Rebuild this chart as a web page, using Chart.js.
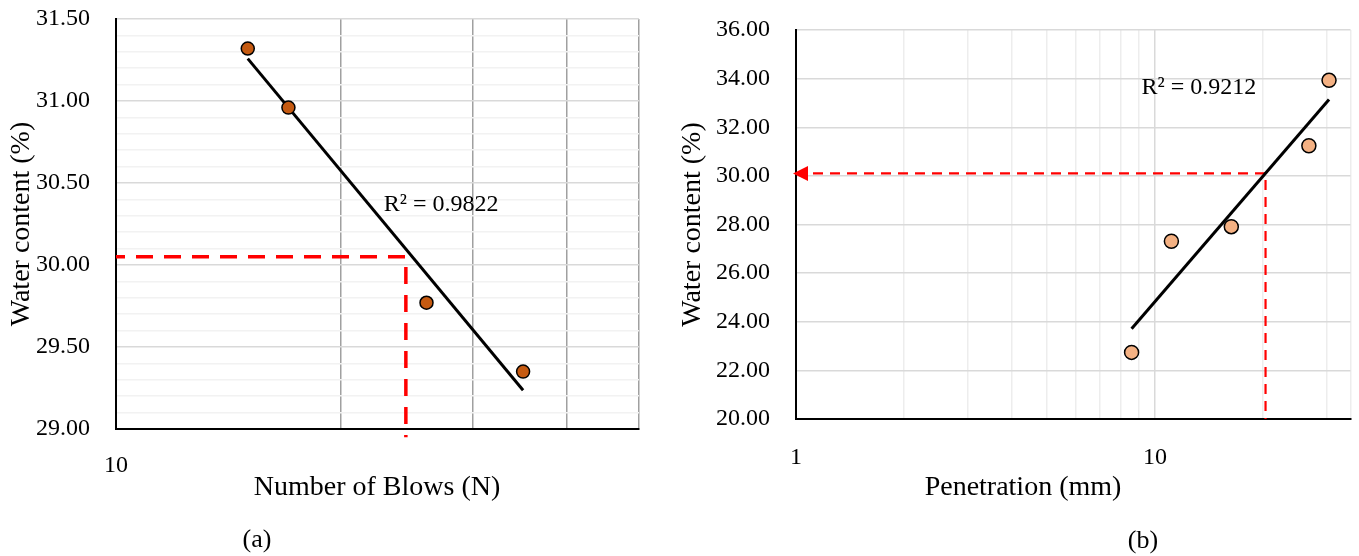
<!DOCTYPE html>
<html>
<head>
<meta charset="utf-8">
<script src="https://cdn.jsdelivr.net/npm/chart.js@4.4.1/dist/chart.umd.min.js"></script>
<style>
  body { margin: 0; background: #fff; width: 1359px; height: 556px; position: relative; overflow: hidden; }
  canvas { position: absolute; top: 0; }
  #chartA { left: 0; }
  #chartB { left: 670px; }
  .lbl { position: absolute; font-family: "Liberation Serif", serif; color: #000; white-space: nowrap; transform: translate(-50%, -50%); }
  .xt { font-size: 28px; }
  .cap { font-size: 26px; }
</style>
</head>
<body>
<canvas id="chartA" width="660" height="556"></canvas>
<canvas id="chartB" width="689" height="556"></canvas>
<div class="lbl xt" style="left:377px; top:486px;">Number of Blows (N)</div>
<div class="lbl xt" style="left:1023px; top:486px;">Penetration (mm)</div>
<div class="lbl cap" style="left:257px; top:539px;">(a)</div>
<div class="lbl cap" style="left:1143px; top:540px;">(b)</div>
<script>
// (a) liquid limit - number of blows
const blowsN = [15, 17, 26, 35];
const waterA = [31.32, 30.96, 29.77, 29.35];
const refA = [24.4, 30.05];        // N at 25 blows reading, water content
const r2A = 'R² = 0.9822';
const r2PosA = [22.8, 30.37];
const xLabelsA = [10];

// (b) cone penetration
const penetration = [8.6, 11.1, 16.3, 26.8, 30.5];
const waterB = [22.74, 27.31, 27.91, 31.24, 33.93];
const refB = [20.3, 30.1];         // 20 mm penetration, water content
const r2B = 'R² = 0.9212';
const r2PosB = [9.16, 33.61];
const xLabelsB = [1, 10];

Chart.defaults.color = '#000';
Chart.defaults.font.family = '"Liberation Serif", serif';

// logarithmic trendline y = a + b ln(x), like Excel
function logFit(xs, ys) {
  const lx = xs.map(Math.log);
  const n = xs.length;
  const mx = lx.reduce((s, v) => s + v, 0) / n;
  const my = ys.reduce((s, v) => s + v, 0) / n;
  let sxy = 0, sxx = 0;
  lx.forEach((v, i) => { sxy += (v - mx) * (ys[i] - my); sxx += (v - mx) ** 2; });
  const b = sxy / sxx;
  const a = my - b * mx;
  return x => a + b * Math.log(x);
}

function trendPoints(xs, ys) {
  const f = logFit(xs, ys);
  const lo = Math.min(...xs), hi = Math.max(...xs);
  return [{ x: lo, y: f(lo) }, { x: hi, y: f(hi) }];
}

const near = (v, step) => Math.abs(v / step - Math.round(v / step)) < 1e-6;

// 1,2,..9,10,20,30.. (Excel-style log grid)
function isLogStep(v) {
  const p = Math.pow(10, Math.floor(Math.log10(v) + 1e-9));
  return near(v / p, 1);
}

// keep the plot area where it is set, not pushed by tick label padding
function fixPad(size) {
  return s => {
    if (s.isHorizontal()) s.height = size; else s.width = size;
    s.paddingTop = 0; s.paddingBottom = 0; s.paddingLeft = 0; s.paddingRight = 0;
  };
}

const textPlugin = {
  id: 'r2text',
  afterDatasetsDraw(chart, args, opts) {
    const { ctx, scales: { x, y } } = chart;
    ctx.save();
    ctx.font = '24px "Liberation Serif", serif';
    ctx.fillStyle = '#000';
    ctx.textAlign = 'left';
    ctx.textBaseline = 'middle';
    ctx.fillText(opts.text, x.getPixelForValue(opts.pos[0]), y.getPixelForValue(opts.pos[1]));
    if (opts.arrowAt) {
      const px = x.getPixelForValue(opts.arrowAt[0]);
      const py = y.getPixelForValue(opts.arrowAt[1]);
      ctx.fillStyle = '#FF0000';
      ctx.beginPath();
      ctx.moveTo(px - 3, py);
      ctx.lineTo(px + 12, py - 7.5);
      ctx.lineTo(px + 12, py + 7.5);
      ctx.closePath();
      ctx.fill();
    }
    ctx.restore();
  }
};

new Chart(document.getElementById('chartA'), {
  type: 'scatter',
  data: {
    datasets: [
      {
        data: blowsN.map((v, i) => ({ x: v, y: waterA[i] })),
        backgroundColor: '#C55A11',
        borderColor: '#000',
        borderWidth: 1.5,
        pointRadius: 6.5,
        pointHoverRadius: 6.5
      },
      {
        type: 'line',
        data: trendPoints(blowsN, waterA),
        borderColor: '#000',
        borderWidth: 3,
        pointRadius: 0
      },
      {
        type: 'line',
        data: [{ x: 10, y: refA[1] }, { x: refA[0], y: refA[1] }, { x: refA[0], y: 28.95 }],
        borderColor: '#FF0000',
        borderWidth: 3.5,
        borderDash: [17, 11],
        borderDashOffset: 8,
        pointRadius: 0,
        clip: false
      }
    ]
  },
  options: {
    responsive: false,
    animation: false,
    layout: { padding: { top: 19, right: 21, left: 0, bottom: 0 } },
    plugins: {
      legend: { display: false },
      tooltip: { enabled: false },
      r2text: { text: r2A, pos: r2PosA }
    },
    scales: {
      x: {
        type: 'logarithmic',
        min: 10,
        max: 50,
        afterFit: fixPad(127),
        border: { color: '#000', width: 2 },
        grid: {
          drawTicks: false,
          lineWidth: 1.5,
          color: c => c.tick && c.tick.value > 10 && near(c.tick.value, 10) ? '#A0A0A0' : 'rgba(0,0,0,0)'
        },
        ticks: {
          autoSkip: false,
          maxRotation: 0,
          padding: 22,
          font: { size: 24 },
          callback: v => xLabelsA.includes(v) ? String(v) : ''
        }
      },
      y: {
        min: 29,
        max: 31.5,
        afterFit: fixPad(116),
        border: { color: '#000', width: 2 },
        grid: {
          drawTicks: false,
          lineWidth: 1.5,
          color: c => near(c.tick.value, 0.5) ? '#D9D9D9' : '#F2F2F2'
        },
        ticks: {
          stepSize: 0.1,
          autoSkip: false,
          padding: 26,
          font: { size: 24 },
          callback: v => near(v, 0.5) ? v.toFixed(2) : ''
        },
        title: {
          display: true,
          text: 'Water content (%)',
          font: { size: 28 },
          padding: { top: 5, bottom: 0 }
        }
      }
    }
  },
  plugins: [textPlugin]
});

new Chart(document.getElementById('chartB'), {
  type: 'scatter',
  data: {
    datasets: [
      {
        data: penetration.map((v, i) => ({ x: v, y: waterB[i] })),
        backgroundColor: '#F4B183',
        borderColor: '#000',
        borderWidth: 1.5,
        pointRadius: 7,
        pointHoverRadius: 7
      },
      {
        type: 'line',
        data: trendPoints(penetration, waterB),
        borderColor: '#000',
        borderWidth: 3,
        pointRadius: 0
      },
      {
        type: 'line',
        data: [{ x: 1, y: refB[1] }, { x: refB[0], y: refB[1] }, { x: refB[0], y: 20 }],
        borderColor: '#FF0000',
        borderWidth: 2.2,
        borderDash: [10, 7],
        pointRadius: 0,
        clip: false
      }
    ]
  },
  options: {
    responsive: false,
    animation: false,
    layout: { padding: { top: 30, right: 7, left: 0, bottom: 0 } },
    plugins: {
      legend: { display: false },
      tooltip: { enabled: false },
      r2text: { text: r2B, pos: r2PosB, arrowAt: [1, refB[1]] }
    },
    scales: {
      x: {
        type: 'logarithmic',
        min: 1,
        max: 35,
        afterFit: fixPad(137),
        border: { color: '#000', width: 2 },
        grid: {
          drawTicks: false,
          lineWidth: 1.5,
          color: c => {
            if (!c.tick) return 'rgba(0,0,0,0)';
            const v = c.tick.value;
            if (v <= 1) return 'rgba(0,0,0,0)';
            if (v === 10) return '#D9D9D9';
            return (isLogStep(v) || v === 35) ? '#EDEDED' : 'rgba(0,0,0,0)';
          }
        },
        ticks: {
          autoSkip: false,
          maxRotation: 0,
          padding: 24,
          font: { size: 24 },
          callback: v => xLabelsB.includes(v) ? String(v) : ''
        }
      },
      y: {
        min: 20,
        max: 36,
        afterFit: fixPad(126),
        border: { color: '#000', width: 2 },
        grid: {
          drawTicks: false,
          lineWidth: 1.5,
          color: '#D9D9D9'
        },
        ticks: {
          stepSize: 2,
          padding: 26,
          font: { size: 24 },
          callback: v => v.toFixed(2)
        },
        title: {
          display: true,
          text: 'Water content (%)',
          font: { size: 28 },
          padding: { top: 6, bottom: 0 }
        }
      }
    }
  },
  plugins: [textPlugin]
});
</script>
</body>
</html>
